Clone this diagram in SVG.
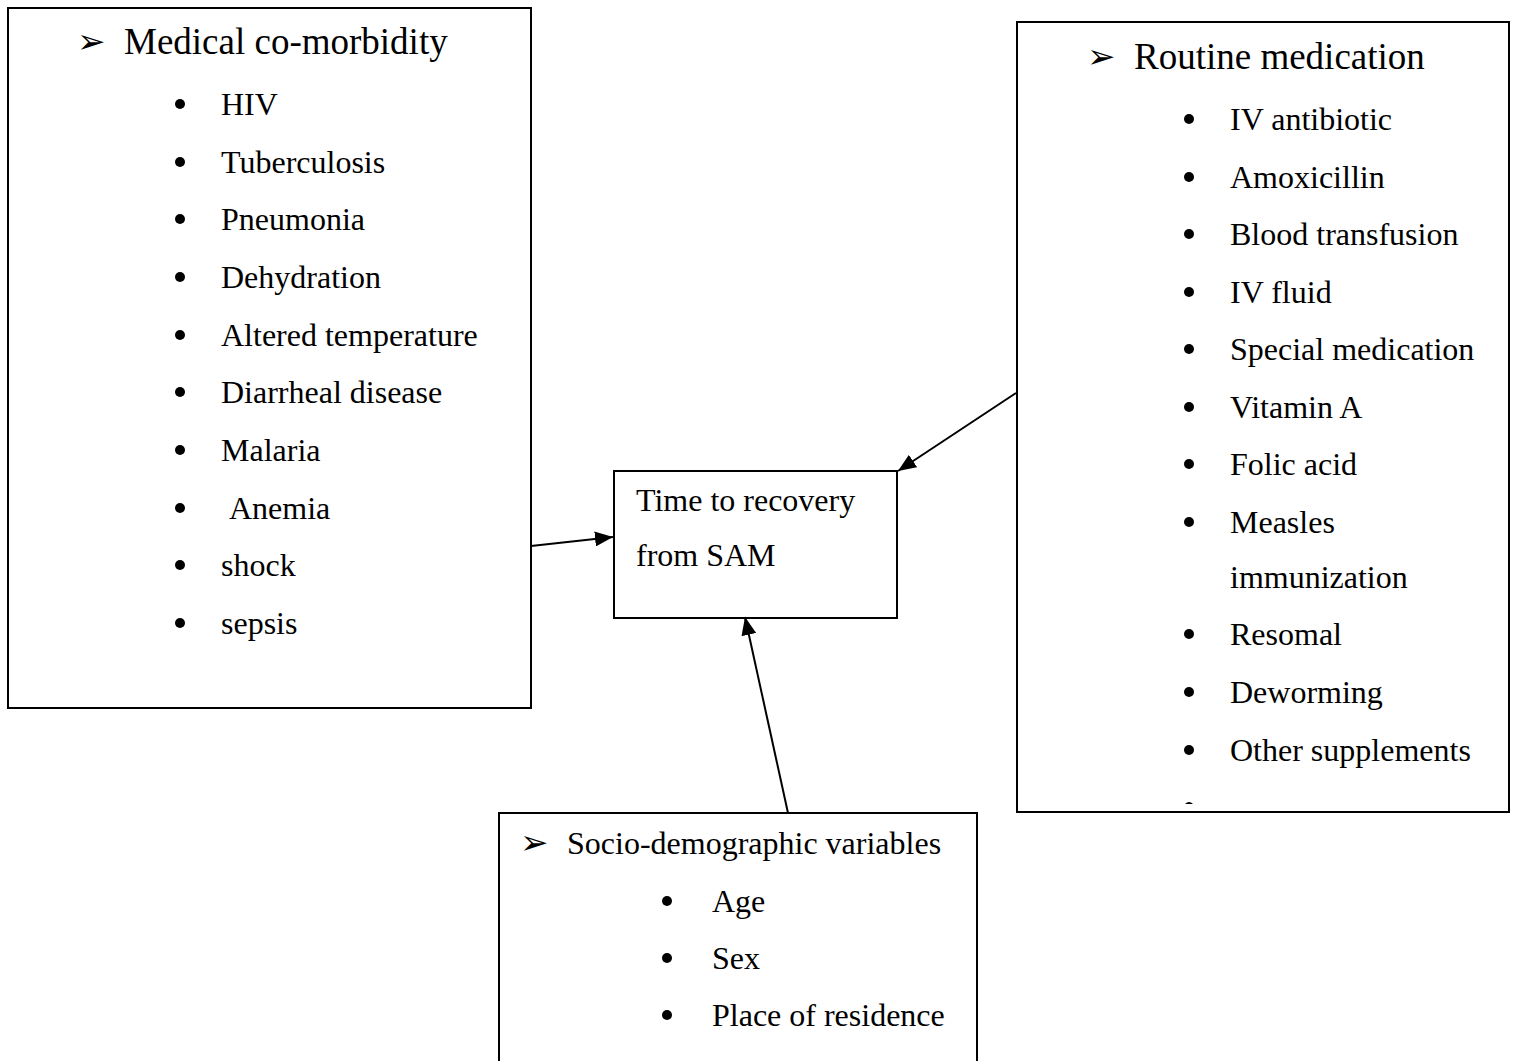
<svg xmlns="http://www.w3.org/2000/svg" width="1515" height="1061" viewBox="0 0 1515 1061">
<style>
.box{fill:#fff;stroke:#000;stroke-width:2}
text{font-family:"Liberation Serif","Times New Roman",serif;fill:#000}
.t{font-size:32px}
.h{font-size:37px}
.ar{font-family:"DejaVu Sans",sans-serif;font-size:34px}
.b{fill:#000}
.c{stroke:#000;stroke-width:2;fill:none}
</style>
<defs>
<marker id="ah2" viewBox="0 0 18 15" refX="18" refY="7.5" markerWidth="18" markerHeight="15" orient="auto" markerUnits="userSpaceOnUse">
<path d="M0,0 L18,7.5 L0,15 z" fill="#000"/>
</marker>
</defs>
<rect width="1515" height="1061" fill="#fff"/>
<g id="node-comorbidity">
<rect class="box" x="8" y="8" width="523" height="700"/>
<text class="ar" x="77" y="53">➢</text>
<text class="h" x="124" y="54">Medical co-morbidity</text>
<circle class="b" cx="180" cy="104" r="5"/><text class="t" x="221" y="115">HIV</text>
<circle class="b" cx="180" cy="162" r="5"/><text class="t" x="221" y="173">Tuberculosis</text>
<circle class="b" cx="180" cy="219" r="5"/><text class="t" x="221" y="230">Pneumonia</text>
<circle class="b" cx="180" cy="277" r="5"/><text class="t" x="221" y="288">Dehydration</text>
<circle class="b" cx="180" cy="335" r="5"/><text class="t" x="221" y="346">Altered temperature</text>
<circle class="b" cx="180" cy="392" r="5"/><text class="t" x="221" y="403">Diarrheal disease</text>
<circle class="b" cx="180" cy="450" r="5"/><text class="t" x="221" y="461">Malaria</text>
<circle class="b" cx="180" cy="508" r="5"/><text class="t" x="229" y="519">Anemia</text>
<circle class="b" cx="180" cy="565" r="5"/><text class="t" x="221" y="576">shock</text>
<circle class="b" cx="180" cy="623" r="5"/><text class="t" x="221" y="634">sepsis</text>
</g>
<g id="node-medication">
<rect class="box" x="1017" y="22" width="492" height="790"/>
<text class="ar" x="1087" y="68">➢</text>
<text class="h" x="1134" y="69">Routine medication</text>
<circle class="b" cx="1189" cy="119" r="5"/><text class="t" x="1230" y="130">IV antibiotic</text>
<circle class="b" cx="1189" cy="177" r="5"/><text class="t" x="1230" y="188">Amoxicillin</text>
<circle class="b" cx="1189" cy="234" r="5"/><text class="t" x="1230" y="245">Blood transfusion</text>
<circle class="b" cx="1189" cy="292" r="5"/><text class="t" x="1230" y="303">IV fluid</text>
<circle class="b" cx="1189" cy="349" r="5"/><text class="t" x="1230" y="360">Special medication</text>
<circle class="b" cx="1189" cy="407" r="5"/><text class="t" x="1230" y="418">Vitamin A</text>
<circle class="b" cx="1189" cy="464" r="5"/><text class="t" x="1230" y="475">Folic acid</text>
<circle class="b" cx="1189" cy="522" r="5"/><text class="t" x="1230" y="533">Measles</text>
<text class="t" x="1230" y="588">immunization</text>
<circle class="b" cx="1189" cy="634" r="5"/><text class="t" x="1230" y="645">Resomal</text>
<circle class="b" cx="1189" cy="692" r="5"/><text class="t" x="1230" y="703">Deworming</text>
<circle class="b" cx="1189" cy="750" r="5"/><text class="t" x="1230" y="761">Other supplements</text>
<path class="b" d="M1185,804 Q1189,800 1193,804 z"/>
</g>
<g id="node-outcome">
<rect class="box" x="614" y="471" width="283" height="147"/>
<text class="t" x="636" y="511">Time to recovery</text>
<text class="t" x="636" y="566">from SAM</text>
</g>
<g id="node-socio">
<path class="box" d="M499,1061 V813 H977 V1061"/>
<text class="ar" x="520" y="854">➢</text>
<text class="t" x="567" y="854">Socio-demographic variables</text>
<circle class="b" cx="667" cy="901" r="5"/><text class="t" x="712" y="912">Age</text>
<circle class="b" cx="667" cy="958" r="5"/><text class="t" x="712" y="969">Sex</text>
<circle class="b" cx="667" cy="1015" r="5"/><text class="t" x="712" y="1026">Place of residence</text>
</g>
<g id="connectors">
<line class="c" x1="531" y1="546" x2="613" y2="537" marker-end="url(#ah2)"/>
<line class="c" x1="1016" y1="393" x2="898" y2="471" marker-end="url(#ah2)"/>
<line class="c" x1="788" y1="813" x2="745" y2="617" marker-end="url(#ah2)"/>
</g>
</svg>
